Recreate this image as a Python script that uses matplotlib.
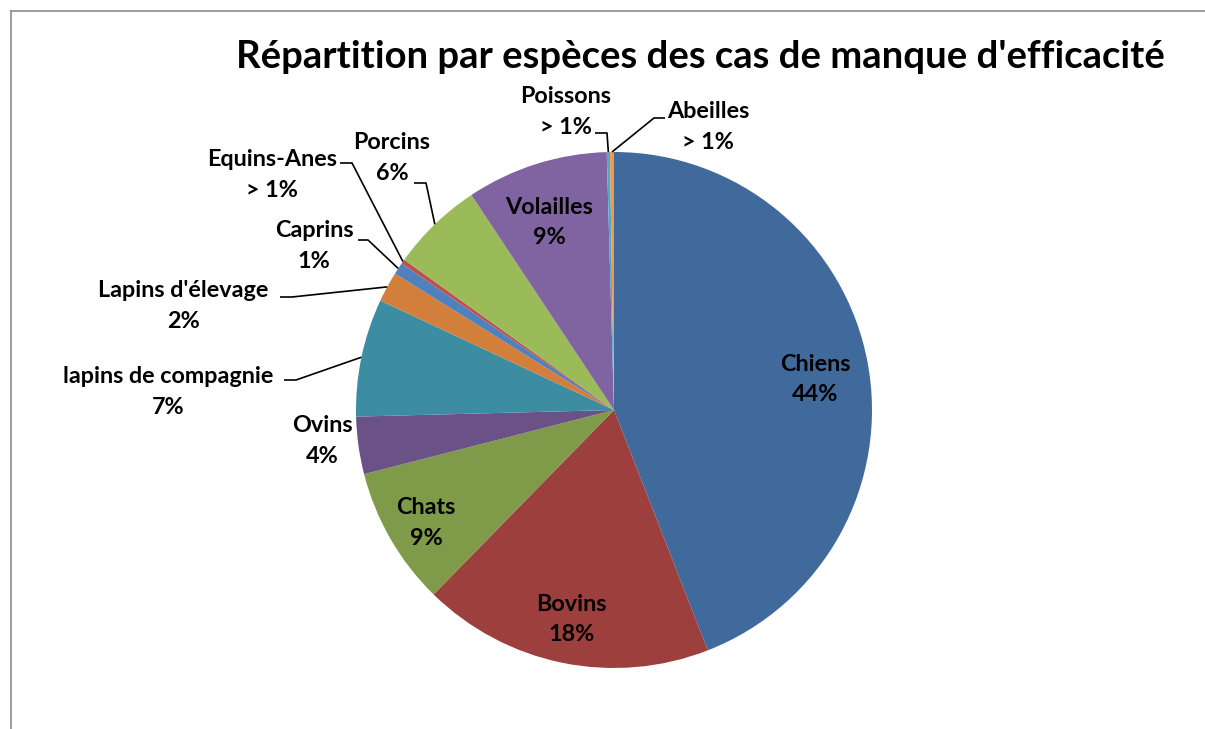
"""Pie chart: species split of lack-of-efficacy cases."""

import numpy as np
import matplotlib
matplotlib.use("Agg")
import matplotlib.pyplot as plt

W, H = 1205, 729

species = ["Chiens", "Bovins", "Chats", "Ovins", "lapins de compagnie",
           "Lapins d'élevage", "Caprins", "Equins-Anes", "Porcins",
           "Volailles", "Poissons", "Abeilles"]
shares = [44.2, 18.3, 8.7, 3.6, 7.4, 1.9, 0.75, 0.28, 5.8, 8.9, 0.2, 0.25]
pct_labels = ["44%", "18%", "9%", "4%", "7%", "2%", "1%", "> 1%", "6%", "9%",
              "> 1%", "> 1%"]
colors = ["#416a9c", "#9d403d", "#7f9a48", "#6a5186", "#3c8ca2", "#d17f3a",
          "#4f81bd", "#c0504d", "#9bbb59", "#8064a2", "#4bacc6", "#f79646"]

# inside labels: fraction of radius, small angle shift (deg)
inside = {"Chiens": (0.79, -2), "Bovins": (0.83, 0), "Chats": (0.85, 1),
          "Volailles": (0.77, 1.5)}
# outside labels: text centre (px, image coords) and leader start/elbow
outside = {
    "Ovins": ((322, 441), None),
    "lapins de compagnie": ((168, 392), [(284, 380), (296, 380)]),
    "Lapins d'élevage": ((183, 306), [(280, 297), (292, 297)]),
    "Caprins": ((314, 246), [(358, 240), (368, 240)]),
    "Equins-Anes": ((272, 175), [(340, 163), (352, 163)]),
    "Porcins": ((392, 158), [(414, 183), (426, 183)]),
    "Poissons": ((566, 112), [(595, 133), (607, 133)]),
    "Abeilles": ((708, 127), [(665, 118), (654, 118)]),
}

cx, cy, R = 614, H - 410, 258

fig = plt.figure(figsize=(W / 100, H / 100), dpi=100)
ax = fig.add_axes([0, 0, 1, 1])

wedges, _ = ax.pie(shares, colors=colors, startangle=90, counterclock=False,
                   center=(cx, cy), radius=R, frame=True,
                   wedgeprops=dict(linewidth=0))
ax.set_xlim(0, W)
ax.set_ylim(0, H)
ax.set_aspect("equal")
ax.axis("off")

font = dict(family=["Lato", "DejaVu Sans"], fontweight="bold", fontsize=16.8,
            ha="center", va="center", linespacing=1.55)

for name, pct, w in zip(species, pct_labels, wedges):
    mid = np.deg2rad((w.theta1 + w.theta2) / 2)
    txt = f"{name}\n{pct}"
    if name in inside:
        f, shift = inside[name]
        a = mid + np.deg2rad(shift)
        ax.text(cx + f * R * np.cos(a), cy + f * R * np.sin(a), txt, **font)
        continue
    (tx, ty), leader = outside[name]
    ax.text(tx, H - ty, txt, **font)
    if leader:
        ex, ey = cx + R * np.cos(mid), cy + R * np.sin(mid)
        xs = [p[0] for p in leader] + [ex]
        ys = [H - p[1] for p in leader] + [ey]
        ax.plot(xs, ys, color="black", lw=1.2, solid_capstyle="butt")

ax.text(700, H - 57, "Répartition par espèces des cas de manque d'efficacité",
        family=["Lato", "DejaVu Sans"], fontweight="bold", fontsize=27.5,
        ha="center", va="center")

# chart area border (partly visible)
ax.plot([11, W], [H - 11, H - 11], color="#8c8c8c", lw=1.2)
ax.plot([11, 11], [H - 11, 0], color="#8c8c8c", lw=1.2)

fig.savefig("out.png", dpi=100, facecolor="white")
